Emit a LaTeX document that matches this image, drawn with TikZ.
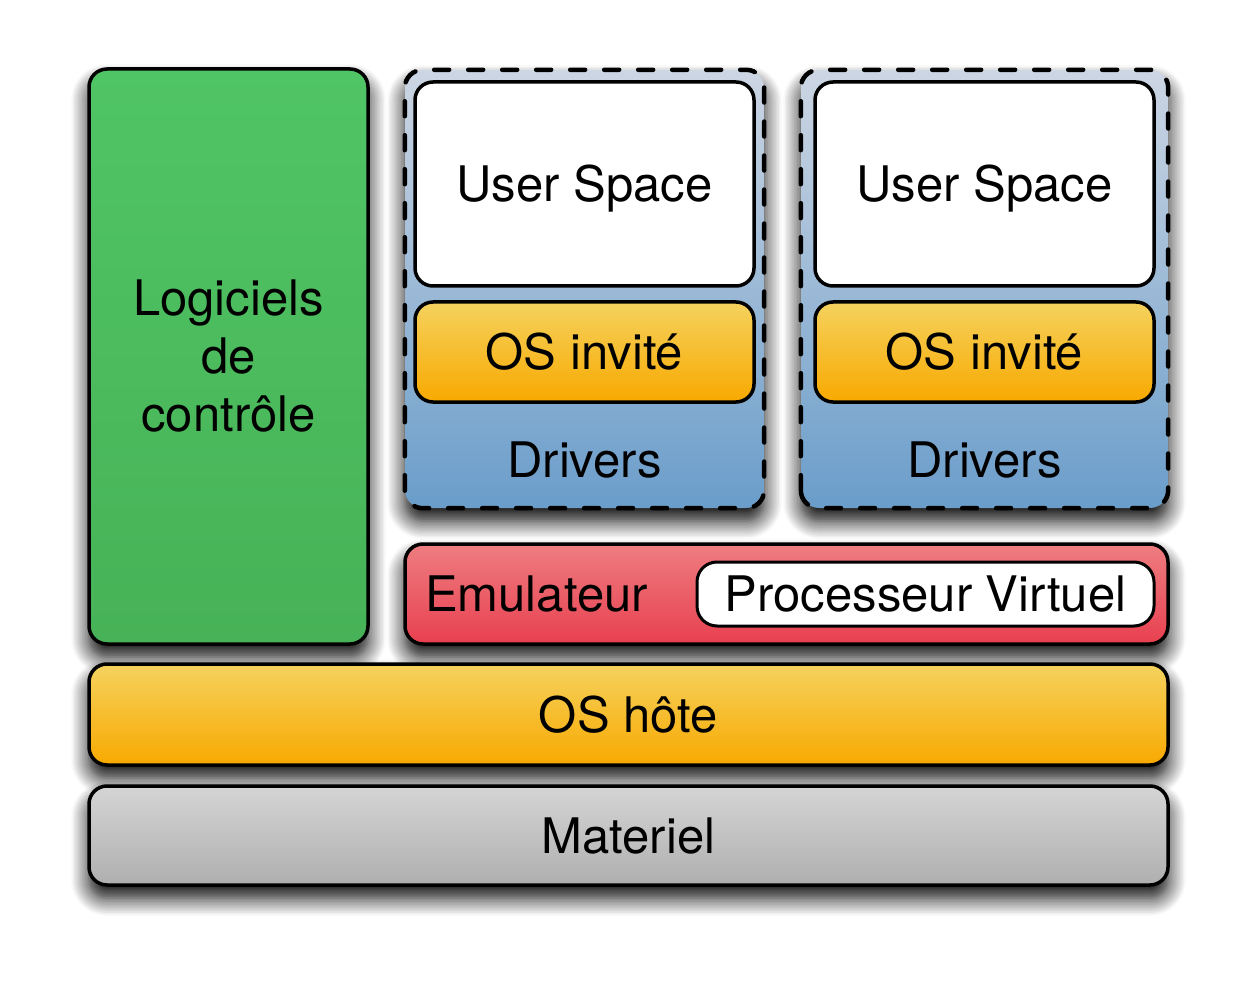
\documentclass[tikz,border=0pt]{standalone}
\usepackage{fontspec}
\setmainfont{TeX Gyre Heros}
\usetikzlibrary{shadows.blur}
\definecolor{greenT}{HTML}{50C565}
\definecolor{greenB}{HTML}{47B257}
\definecolor{orangeT}{HTML}{F5D25E}
\definecolor{orangeB}{HTML}{F8A900}
\definecolor{redT}{HTML}{EE7D81}
\definecolor{redB}{HTML}{E8404F}
\definecolor{greyT}{HTML}{D5D5D5}
\definecolor{greyB}{HTML}{AFAFAF}
\definecolor{blueT}{HTML}{CDD6E3}
\definecolor{blueB}{HTML}{6A9DCA}
\begin{document}
\begin{tikzpicture}[x=1pt,y=-1pt,
  lbl/.style={font=\fontsize{49}{58}\selectfont, align=center, inner sep=0pt},
  one/.style={text height=35pt, text depth=0pt},
  box/.style={draw, line width=3.5pt, rounded corners=18pt, inner sep=0pt, lbl},
  shad/.style={blur shadow={shadow xshift=0pt, shadow yshift=-13pt, shadow blur radius=18pt, shadow opacity=100, shadow blur steps=12}},
  greenbox/.style={box, shad, top color=greenT, bottom color=greenB},
  orangebox/.style={box, top color=orangeT, bottom color=orangeB},
  redbox/.style={box, shad, top color=redT, bottom color=redB},
  greybox/.style={box, shad, top color=greyT, bottom color=greyB},
  container/.style={inner sep=0pt, rounded corners=18pt, shad, top color=blueT, bottom color=blueB},
  dashline/.style={line width=4.5pt, line cap=round, dash pattern=on 15pt off 19pt, rounded corners=18pt},
  whitebox/.style={box, fill=white},
]
\useasboundingbox (0,0) rectangle (1254,987);

\node[greenbox, minimum width=279pt, minimum height=575pt] (ctrl) at (228.5,356.5) {Logiciels\\de\\contrôle};

\node[container, minimum width=359pt, minimum height=438pt] (vm1) at (584.5,289) {};
\draw[dashline] (vm1.south west) rectangle (vm1.north east);
\node[whitebox, one, minimum width=339pt, minimum height=204pt] (us1) at (584.5,184) {User Space};
\node[orangebox, one, minimum width=339pt, minimum height=100pt] (os1) at (584.5,352) {OS invité};
\node[lbl, one] (drv1) at (584.5,460) {Drivers};

\node[container, minimum width=367pt, minimum height=438pt] (vm2) at (984.5,289) {};
\draw[dashline] (vm2.south west) rectangle (vm2.north east);
\node[whitebox, one, minimum width=339pt, minimum height=204pt] (us2) at (984.5,184) {User Space};
\node[orangebox, one, minimum width=339pt, minimum height=100pt] (os2) at (984.5,352) {OS invité};
\node[lbl, one] (drv2) at (984.5,460) {Drivers};

\node[redbox, minimum width=763pt, minimum height=100pt] (emu) at (786.5,594) {};
\node[lbl, one, anchor=west] (emut) at (425,594) {Emulateur};
\node[whitebox, one, line width=3pt, rounded corners=20pt, minimum width=457pt, minimum height=64pt] (pv) at (925.5,594) {Processeur Virtuel};

\node[orangebox, one, shad, minimum width=1079pt, minimum height=101pt] (host) at (628.5,714.5) {OS hôte};
\node[greybox, one, minimum width=1079pt, minimum height=99pt] (hw) at (628.5,835.5) {Materiel};
\end{tikzpicture}
\end{document}
